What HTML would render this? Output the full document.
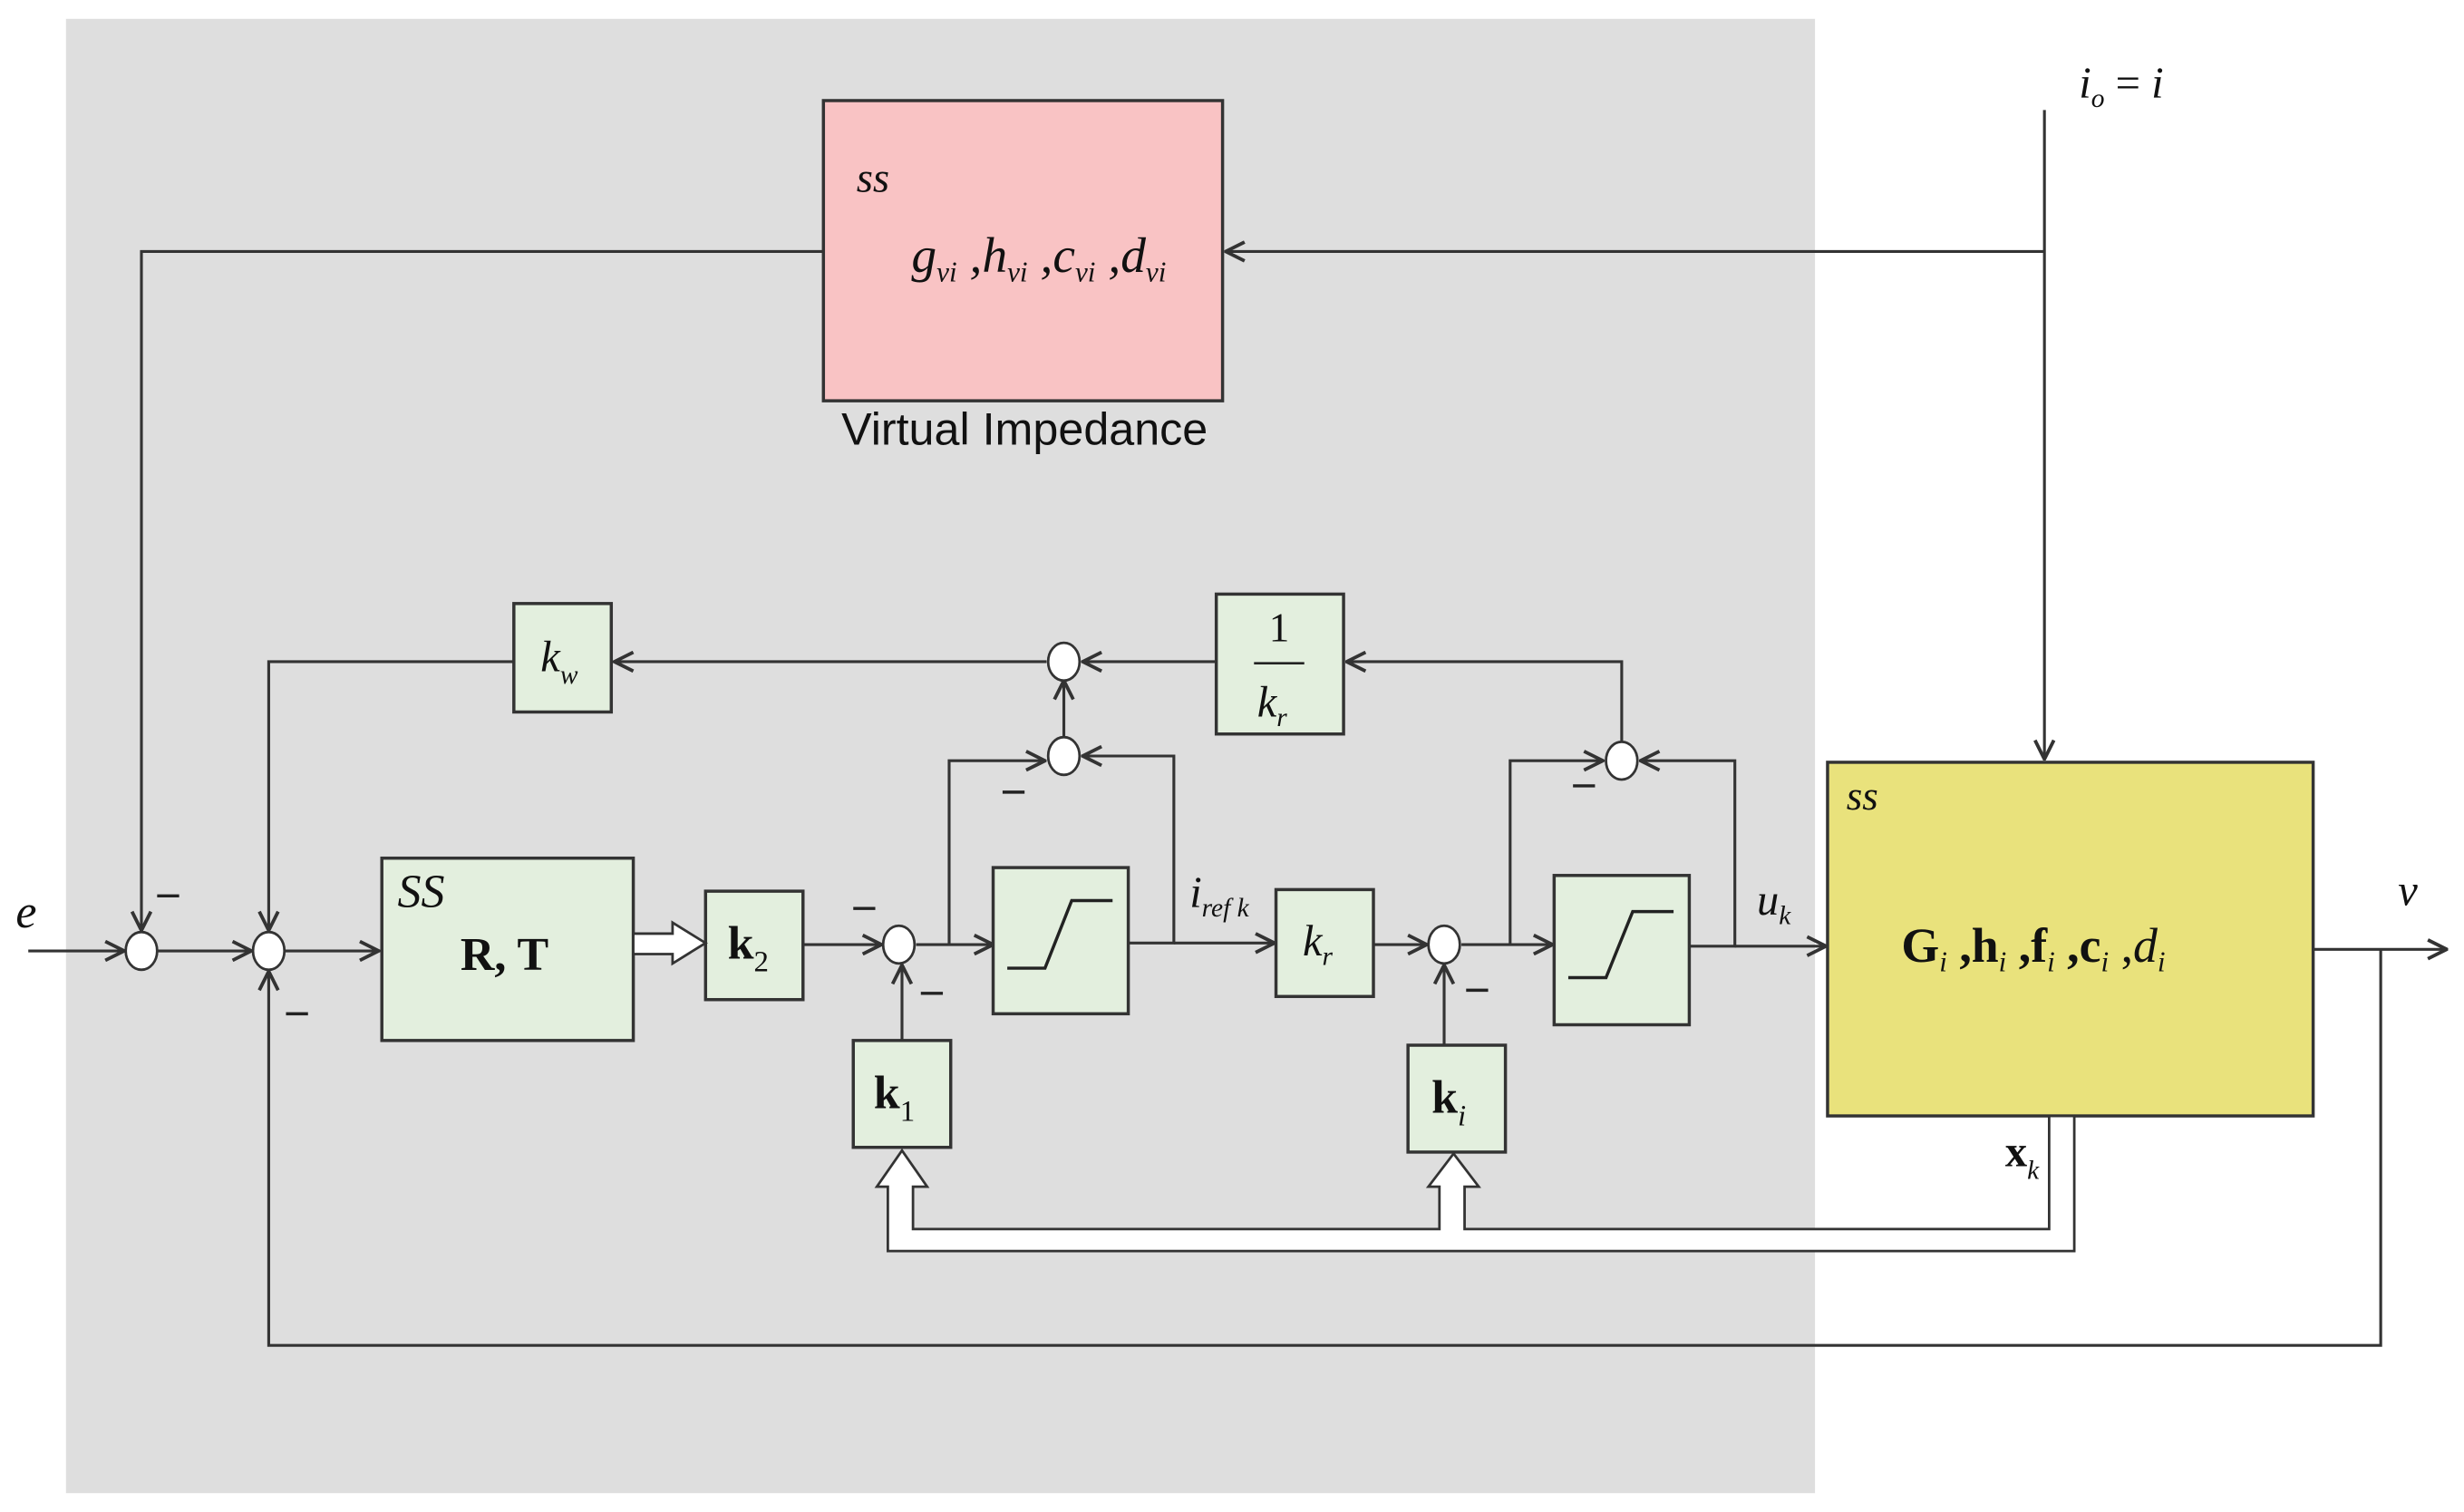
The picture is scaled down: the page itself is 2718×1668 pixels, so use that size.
<!DOCTYPE html>
<html><head><meta charset="utf-8"><style>
html,body{margin:0;padding:0;background:#fff}
svg{display:block}
text{font-family:"Liberation Serif",serif;fill:#111}
.it{font-style:italic}
.b{font-weight:bold}
</style></head><body>
<svg width="2718" height="1668" viewBox="0 0 1568 962" preserveAspectRatio="none" xmlns="http://www.w3.org/2000/svg">
<defs>
<marker id="a" viewBox="0 0 14 14" refX="13" refY="7" markerWidth="14" markerHeight="14" markerUnits="userSpaceOnUse" orient="auto">
<path d="M1,1 L13,7 L1,13" fill="none" stroke="#333" stroke-width="2.2"/>
</marker>
</defs>
<rect x="42" y="12" width="1113" height="938" fill="#dedede"/>
<g stroke="#333" stroke-width="1.8" fill="none">
<polyline points="524,160 90,160 90,592" marker-end="url(#a)"/>
<line x1="1301" y1="70" x2="1301" y2="483" marker-end="url(#a)"/>
<line x1="1301" y1="160" x2="780" y2="160" marker-end="url(#a)"/>
<line x1="18" y1="605" x2="79" y2="605" marker-end="url(#a)"/>
<line x1="100" y1="605" x2="160" y2="605" marker-end="url(#a)"/>
<line x1="181" y1="605" x2="241" y2="605" marker-end="url(#a)"/>
<polyline points="1515,604 1515,856 171,856 171,618" marker-end="url(#a)"/>
<polyline points="327,421 171,421 171,592" marker-end="url(#a)"/>
<line x1="666" y1="421" x2="391" y2="421" marker-end="url(#a)"/>
<line x1="677" y1="470" x2="677" y2="433" marker-end="url(#a)"/>
<line x1="774" y1="421" x2="689" y2="421" marker-end="url(#a)"/>
<polyline points="1032,472 1032,421 857,421" marker-end="url(#a)"/>
<polyline points="604,601 604,484 665,484" marker-end="url(#a)"/>
<polyline points="718,600 747,600 747,481 689,481" marker-end="url(#a)"/>
<line x1="511" y1="601" x2="561" y2="601" marker-end="url(#a)"/>
<line x1="574" y1="662" x2="574" y2="614" marker-end="url(#a)"/>
<line x1="583" y1="601" x2="632" y2="601" marker-end="url(#a)"/>
<line x1="747" y1="600" x2="811" y2="600" marker-end="url(#a)"/>
<line x1="874" y1="601" x2="908" y2="601" marker-end="url(#a)"/>
<line x1="919" y1="665" x2="919" y2="614" marker-end="url(#a)"/>
<line x1="930" y1="601" x2="988" y2="601" marker-end="url(#a)"/>
<polyline points="961,601 961,484 1020,484" marker-end="url(#a)"/>
<polyline points="1075,602 1104,602 1104,484 1044,484" marker-end="url(#a)"/>
<line x1="1104" y1="602" x2="1162" y2="602" marker-end="url(#a)"/>
<line x1="1472" y1="604" x2="1557" y2="604" marker-end="url(#a)"/>
</g>
<g fill="#fff" stroke="#333" stroke-width="1.6">
<ellipse cx="90" cy="605" rx="10" ry="12"/>
<ellipse cx="171" cy="605" rx="10" ry="12"/>
<ellipse cx="677" cy="421" rx="10" ry="12"/>
<ellipse cx="677" cy="481" rx="10" ry="12"/>
<ellipse cx="572" cy="601" rx="10" ry="12"/>
<ellipse cx="919" cy="601" rx="10" ry="12"/>
<ellipse cx="1032" cy="484" rx="10" ry="12"/>
</g>
<rect x="524" y="64" width="254" height="191" fill="#f9c3c4" stroke="#333" stroke-width="2"/>
<g fill="#e3efde" stroke="#333" stroke-width="2">
<rect x="327" y="384" width="62" height="69"/>
<rect x="774" y="378" width="81" height="89"/>
<rect x="243" y="546" width="160" height="116"/>
<rect x="449" y="567" width="62" height="69"/>
<rect x="543" y="662" width="62" height="68"/>
<rect x="632" y="552" width="86" height="93"/>
<rect x="812" y="566" width="62" height="68"/>
<rect x="896" y="665" width="62" height="68"/>
<rect x="989" y="557" width="86" height="95"/>
</g>
<rect x="1163" y="485" width="309" height="225" fill="#e9e27c" stroke="#333" stroke-width="2"/>
<g fill="none" stroke="#222" stroke-width="2">
<polyline points="641,616 665,616 682,573 708,573"/>
<polyline points="998,622 1022,622 1039,580 1065,580"/>
</g>
<polygon points="403,594 428,594 428,587 449,600 428,613 428,607 403,607" fill="#fff" stroke="#333" stroke-width="1.6"/>
<polygon points="1320,710 1320,796 565,796 565,755 558,755 574,732 590,755 581,755 581,782 916,782 916,755 909,755 925,734 941,755 932,755 932,782 1304,782 1304,710" fill="#fff" stroke="#333" stroke-width="1.6"/>
<g stroke="#222" stroke-width="2">
<line x1="100" y1="570" x2="114" y2="570"/>
<line x1="182" y1="645" x2="196" y2="645"/>
<line x1="638" y1="504" x2="652" y2="504"/>
<line x1="543" y1="578" x2="557" y2="578"/>
<line x1="586" y1="632" x2="600" y2="632"/>
<line x1="933" y1="630" x2="947" y2="630"/>
<line x1="1001" y1="500" x2="1015" y2="500"/>
</g>
<text x="545" y="122" font-size="27" class="it">ss</text>
<text x="580" y="173" font-size="32" class="it">g<tspan font-size="18" dy="6">vi</tspan><tspan dy="-6"> ,</tspan>h<tspan font-size="18" dy="6">vi</tspan><tspan dy="-6"> ,</tspan>c<tspan font-size="18" dy="6">vi</tspan><tspan dy="-6"> ,</tspan>d<tspan font-size="18" dy="6">vi</tspan></text>
<text x="652" y="283" font-size="29" text-anchor="middle" style="font-family:'Liberation Sans',sans-serif">Virtual Impedance</text>
<text x="1323" y="62" font-size="28" class="it">i<tspan font-size="17" dy="6">o</tspan><tspan dy="-6" font-style="normal"> = </tspan>i</text>
<text x="10" y="590" font-size="30" class="it">e</text>
<text x="344" y="427" font-size="28" class="it">k<tspan font-size="17" dy="8">w</tspan></text>
<text x="814" y="408" font-size="26" text-anchor="middle">1</text>
<line x1="798" y1="422" x2="830" y2="422" stroke="#222" stroke-width="1.5"/>
<text x="800" y="456" font-size="28" class="it">k<tspan font-size="17" dy="6">r</tspan></text>
<text x="253" y="577" font-size="30" class="it">SS</text>
<text x="293" y="617" font-size="30" class="b">R, T</text>
<text x="463" y="610" font-size="30" class="b">k<tspan font-size="19" font-weight="normal" dy="8">2</tspan></text>
<text x="556" y="705" font-size="30" class="b">k<tspan font-size="19" font-weight="normal" dy="8">1</tspan></text>
<text x="911" y="708" font-size="30" class="b">k<tspan font-size="19" font-weight="normal" font-style="italic" dy="8">i</tspan></text>
<text x="757" y="577" font-size="28" class="it">i<tspan font-size="17" dy="6">ref  k</tspan></text>
<text x="829" y="608" font-size="28" class="it">k<tspan font-size="17" dy="6">r</tspan></text>
<text x="1118" y="582" font-size="28" class="it">u<tspan font-size="17" dy="6">k</tspan></text>
<text x="1175" y="515" font-size="26" class="it">ss</text>
<text x="1210" y="612" font-size="31"><tspan class="b">G</tspan><tspan font-size="18" font-style="italic" dy="6">i</tspan><tspan dy="-6" class="b"> ,h</tspan><tspan font-size="18" font-style="italic" dy="6">i</tspan><tspan dy="-6" class="b"> ,f</tspan><tspan font-size="18" font-style="italic" dy="6">i</tspan><tspan dy="-6" class="b"> ,c</tspan><tspan font-size="18" font-style="italic" dy="6">i</tspan><tspan dy="-6"> ,</tspan><tspan font-style="italic">d</tspan><tspan font-size="18" font-style="italic" dy="6">i</tspan></text>
<text x="1276" y="742" font-size="28" class="b">x<tspan font-size="17" font-weight="normal" font-style="italic" dy="8">k</tspan></text>
<text x="1526" y="576" font-size="28" class="it">v</text>
</svg>
</body></html>
